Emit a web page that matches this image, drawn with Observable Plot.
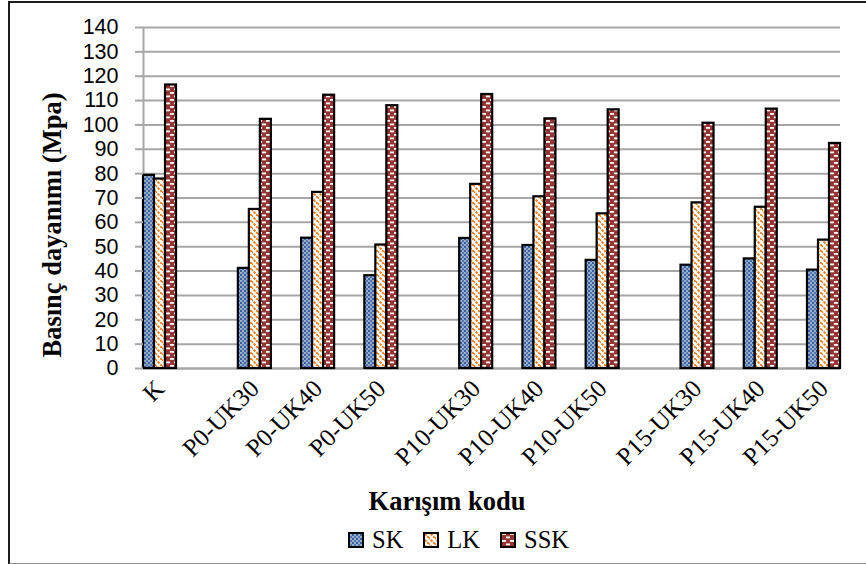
<!DOCTYPE html>
<html>
<head>
<meta charset="utf-8">
<script src="https://cdn.jsdelivr.net/npm/d3@7"></script>
<script src="https://cdn.jsdelivr.net/npm/@observablehq/plot@0.6"></script>
<style>
  html, body { margin: 0; padding: 0; background: #fff; overflow: hidden; }
  #wrap { position: relative; width: 866px; height: 564px; overflow: hidden; background: #fff; }
  #border {
    position: absolute; left: 8px; top: 1px; width: 900px; height: 560px;
    border-left: 2px solid #1c1c1c; border-top: 2px solid #1c1c1c; border-bottom: 2px solid #8e8e8e;
    pointer-events: none; z-index: 3;
  }
  #legend {
    position: absolute; left: 348px; top: 528px; display: flex; align-items: center;
    font-family: "Liberation Serif", "Times New Roman", serif; font-size: 24.5px; line-height: 24px; color: #000;
  }
  #legend .item { display: flex; align-items: center; margin-right: 20px; }
  #legend svg { margin-right: 8px; display: block; }
</style>
</head>
<body>
<svg width="0" height="0" style="position:absolute">
  <defs>
    <!-- blue with white dotted lattice -->
    <pattern id="pat-SK" width="4" height="4" patternUnits="userSpaceOnUse">
      <rect width="4" height="4" fill="#37619e"/>
      <rect x="0.3" y="0.3" width="1.4" height="1.4" fill="#ffffff"/>
      <rect x="2.3" y="2.3" width="1.4" height="1.4" fill="#ffffff"/>
      <rect x="2.3" y="0.3" width="1.2" height="1.2" fill="#7d9bcc"/>
    </pattern>
    <!-- orange dashed downward diagonals on white -->
    <pattern id="pat-LK" width="6" height="6" patternUnits="userSpaceOnUse">
      <rect width="6" height="6" fill="#ffffff"/>
      <path d="M-1,-1L7,7M-4,2L2,8M4,-2L8,2" stroke="#ef7a14" stroke-width="1.9" stroke-dasharray="2.6,1.1"/>
    </pattern>
    <!-- dark red with staggered white dashes -->
    <pattern id="pat-SSK" width="8" height="7" patternUnits="userSpaceOnUse">
      <rect width="8" height="7" fill="#953634"/>
      <rect x="2" y="1" width="4" height="1.8" fill="#ffffff"/>
      <rect x="-2" y="4.5" width="4" height="1.8" fill="#ffffff"/>
      <rect x="6" y="4.5" width="4" height="1.8" fill="#ffffff"/>
    </pattern>
  </defs>
</svg>
<div id="wrap">
  <div id="chart"></div>
  <div id="legend"></div>
  <div id="border"></div>
</div>
<script>
// Compressive strength by mix code, for three curing regimes
const categories = ["K", "P0-UK30", "P0-UK40", "P0-UK50", "P10-UK30", "P10-UK40", "P10-UK50", "P15-UK30", "P15-UK40", "P15-UK50"];
const series = ["SK", "LK", "SSK"];
const SK  = [79.3, 41.1, 53.5, 38.1, 53.4, 50.5, 44.4, 42.4, 45.0, 40.4];
const LK  = [77.8, 65.3, 72.3, 50.7, 75.6, 70.5, 63.5, 68.0, 66.2, 52.7];
const SSK = [116.4, 102.3, 112.2, 107.9, 112.5, 102.5, 106.2, 100.7, 106.5, 92.4];
const yTicks = [0, 10, 20, 30, 40, 50, 60, 70, 80, 90, 100, 110, 120, 130, 140];
const yTitle = "Basınç dayanımı (Mpa)";
const xTitle = "Karışım kodu";

const valuesBySeries = {SK, LK, SSK};
const patternOf = s => `url(#pat-${s})`;

// Slot positions: one slot per mix, an extra half slot between mix families (K, P0, P10, P15)
let slot = 0, prevFamily = null;
const pos = categories.map(c => {
  const family = c.split("-")[0];
  if (prevFamily !== null) slot += family === prevFamily ? 1 : 1.5;
  prevFamily = family;
  return slot;
});
const barW = 0.174;                    // bar width as a fraction of a slot
const groupW = barW * series.length;
const centers = pos.map(p => p + groupW / 2);
const labelAt = new Map(centers.map((c, i) => [c, categories[i]]));

const rows = categories.flatMap((c, i) => series.map((s, j) => ({
  category: c,
  series: s,
  x1: pos[i] + j * barW,
  x2: pos[i] + (j + 1) * barW,
  value: valuesBySeries[s][i]
})));

const gridColor = "#a6a6a6";

const chart = Plot.plot({
  width: 866,
  height: 524,
  marginLeft: 143,
  marginRight: 26,
  marginTop: 27,
  marginBottom: 156,
  style: {background: "transparent", overflow: "visible"},
  x: {type: "linear", domain: [0, pos[pos.length - 1] + groupW]},
  y: {domain: [0, 140]},
  marks: [
    Plot.gridY(yTicks, {stroke: gridColor, strokeOpacity: 1, strokeWidth: 2}),
    Plot.ruleX([0], {stroke: gridColor, strokeWidth: 2}),
    Plot.ruleY([0], {stroke: gridColor, strokeWidth: 2}),
    ...series.map(s => Plot.rect(rows.filter(d => d.series === s), {
      x1: "x1", x2: "x2", y1: 0, y2: "value",
      fill: patternOf(s), stroke: "#000", strokeWidth: 2.2
    })),
    Plot.axisY(yTicks, {
      tickSize: 8, tickPadding: 17, stroke: gridColor, strokeWidth: 2,
      fill: "#000", fontSize: 21.5, fontFamily: "Liberation Sans", label: null
    }),
    Plot.axisX(centers, {
      tickFormat: d => labelAt.get(d), tickRotate: -45, tickSize: 0, tickPadding: 16,
      fill: "#000", fontSize: 25, fontFamily: "Liberation Serif", label: null
    }),
    Plot.text([yTitle], {
      frameAnchor: "left", textAnchor: "middle", lineAnchor: "middle", dx: -91, dy: 27, rotate: -90,
      fontSize: 26.5, fontWeight: "bold", fontFamily: "Liberation Serif", fill: "#000"
    }),
    Plot.text([xTitle], {
      frameAnchor: "bottom", textAnchor: "middle", lineAnchor: "middle", dx: -45, dy: 133,
      fontSize: 26.5, fontWeight: "bold", fontFamily: "Liberation Serif", fill: "#000"
    })
  ]
});
document.getElementById("chart").append(chart);

// Legend below the chart
const legend = d3.select("#legend");
for (const s of series) {
  const item = legend.append("div").attr("class", "item");
  item.append("svg").attr("width", 16).attr("height", 16)
    .append("rect").attr("x", 1).attr("y", 1).attr("width", 14).attr("height", 14)
    .attr("fill", patternOf(s)).attr("stroke", "#000").attr("stroke-width", 2);
  item.append("span").text(s);
}
</script>
</body>
</html>
